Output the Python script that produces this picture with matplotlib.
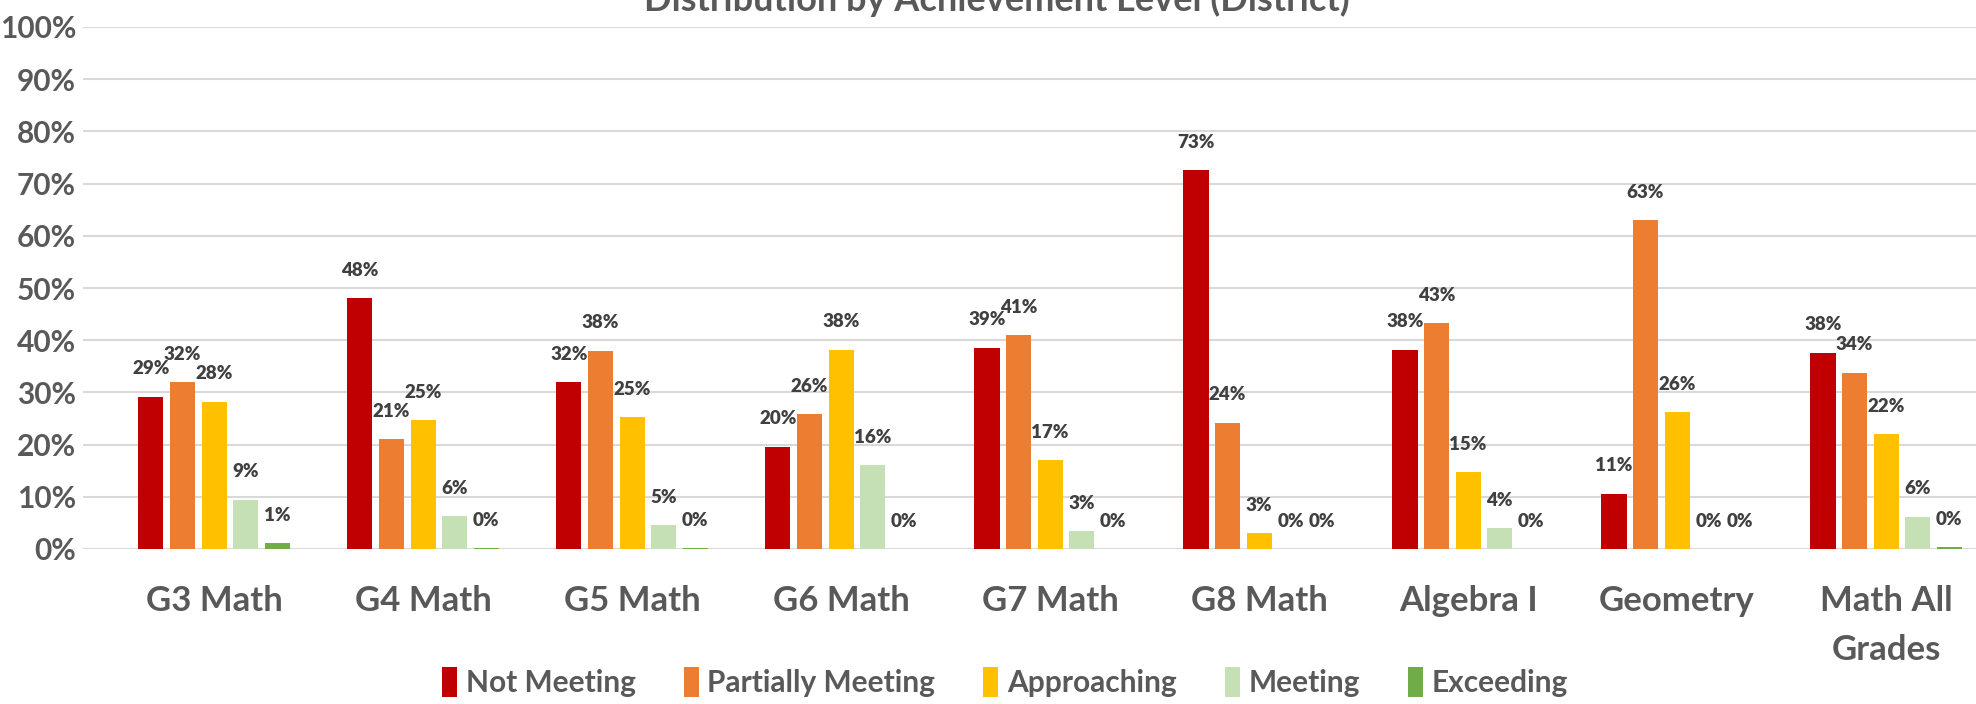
import matplotlib
matplotlib.use("Agg")
import matplotlib.pyplot as plt
from matplotlib.patches import Patch
import numpy as np

plt.rcParams['font.family'] = ['Lato', 'DejaVu Sans']
plt.rcParams['font.weight'] = 'bold'

categories = ["G3 Math", "G4 Math", "G5 Math", "G6 Math", "G7 Math",
              "G8 Math", "Algebra I", "Geometry", "Math All\nGrades"]
series_names = ["Not Meeting", "Partially Meeting", "Approaching", "Meeting", "Exceeding"]
not_meeting = [29.2, 48.0, 32.0, 19.6, 38.6, 72.6, 38.2, 10.6, 37.6]
partially_meeting = [32.0, 21.0, 38.0, 25.8, 41.0, 24.2, 43.2, 63.0, 33.8]
approaching = [28.2, 24.7, 25.2, 38.2, 17.0, 3.0, 14.7, 26.2, 22.0]
meeting = [9.4, 6.3, 4.6, 16.0, 3.4, 0.0, 4.0, 0.0, 6.2]
exceeding = [1.1, 0.2, 0.1, 0.0, 0.0, 0.0, 0.0, 0.0, 0.3]
series = [not_meeting, partially_meeting, approaching, meeting, exceeding]
colors = ["#C00000", "#ED7D31", "#FFC000", "#C5E0B4", "#70AD47"]
title = "Distribution by Achievement Level (District)"

W, H = 1976, 704
fig = plt.figure(figsize=(W / 100, H / 100), dpi=100)
ax = fig.add_axes([83 / W, (H - 549) / H, 1 - 83 / W, (549 - 27) / H])

x = np.arange(len(categories))
step = 0.151
width = 0.12
label_color = "#404040"
text_color = "#595959"

for k, (vals, c) in enumerate(zip(series, colors)):
    xs = x + (k - 2) * step
    ax.bar(xs, vals, width=width, color=c, zorder=3)
    for xi, v in zip(xs, vals):
        ax.annotate(f"{round(v):.0f}%", (xi, v), xytext=(0, 14), textcoords="offset points",
                    ha="center", va="bottom", fontsize=13.5, fontweight="heavy",
                    color=label_color, zorder=4)

ax.set_ylim(0, 100)
ax.set_xlim(-0.627, 8.43)
ax.set_yticks(np.arange(0, 101, 10))
ax.set_yticklabels([f"{v}%" for v in range(0, 101, 10)])
ax.set_xticks(x)
ax.set_xticklabels(categories)
for lab in ax.get_xticklabels():
    lab.set_linespacing(1.65)
ax.tick_params(axis="x", length=0, pad=26, labelsize=25, labelcolor=text_color)
ax.tick_params(axis="y", length=0, pad=5, labelsize=21.5, labelcolor=text_color)
ax.grid(axis="y", color="#D9D9D9", linewidth=1.5, zorder=0)
for s in ax.spines.values():
    s.set_visible(False)

fig.text(997 / W, 1.0, title, ha="center", va="center", fontsize=26,
         fontweight="bold", color=text_color)

handles = [Patch(facecolor=c, edgecolor="none") for c in colors]
fig.legend(handles, series_names, loc="center", bbox_to_anchor=(1005 / W, 1 - 682 / H),
           ncol=5, frameon=False, fontsize=21.5, handlelength=0.5, handleheight=1.15,
           handletextpad=0.3, columnspacing=1.6, labelcolor=text_color)

fig.savefig("out.png", dpi=100)
